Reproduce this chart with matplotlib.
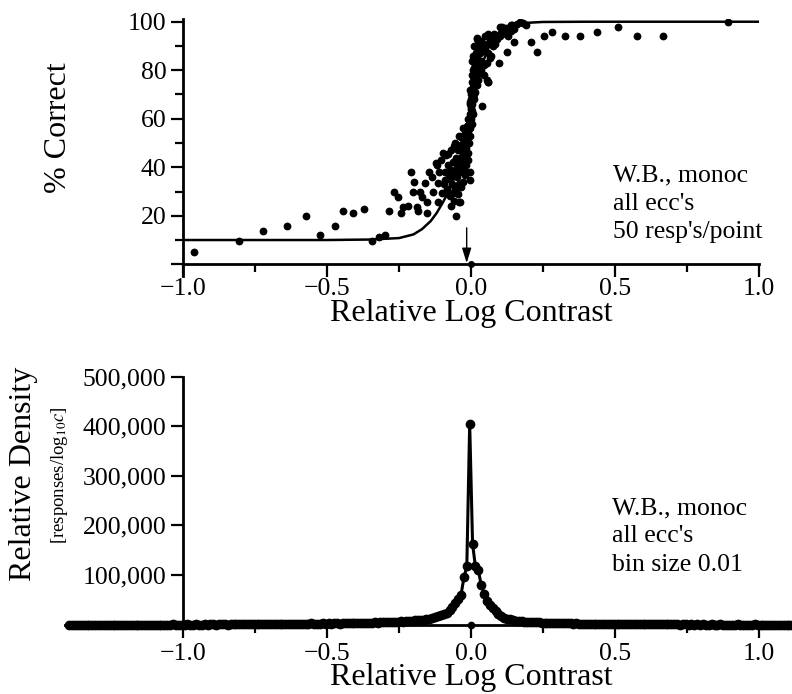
import numpy as np
import matplotlib
matplotlib.use("Agg")
import matplotlib.pyplot as plt

plt.rcParams['font.family'] = ['Liberation Serif', 'DejaVu Serif']
plt.rcParams['mathtext.fontset'] = 'stix'

# ---------------- data: top panel (percent correct) ----------------
pc_x = [-0.962, -0.804, -0.723, -0.640, -0.573, -0.525, -0.472, -0.444, -0.409, -0.370,
        -0.344, -0.318, -0.299, -0.284, -0.268, -0.255, -0.244, -0.235, -0.219, -0.209,
        -0.197, -0.202, -0.186, -0.183, -0.177, -0.169, -0.160, -0.152, -0.154, -0.146,
        -0.137, -0.131, -0.123, -0.119, -0.113, -0.113, -0.102, -0.098, -0.089, -0.079,
        -0.081, -0.064, -0.059, -0.052, -0.041, -0.048, -0.027, -0.027, -0.038,
        -0.095, -0.090, -0.085, -0.080, -0.075, -0.072, -0.070, -0.066, -0.062, -0.058,
        -0.055, -0.052, -0.050, -0.046, -0.044, -0.042, -0.040, -0.037, -0.035, -0.033,
        -0.030, -0.030, -0.028, -0.025, -0.024, -0.022, -0.020, -0.019, -0.017, -0.015,
        -0.014, -0.012, -0.010, -0.009, -0.008, -0.006, -0.005, -0.004, -0.003, -0.003,
        -0.002, 0.000, 0.000, 0.002, -0.010, -0.020, -0.060, -0.068, -0.045, -0.035,
        -0.110, -0.105, -0.088, -0.070, -0.055, -0.042,
        0.000, 0.005, -0.005, 0.010, 0.000, 0.005, 0.015, 0.010, 0.020, 0.005,
        0.015, 0.025, 0.030, 0.010, 0.020, 0.035, 0.045, 0.055, 0.060, 0.005,
        0.015, 0.025, 0.035, 0.045, 0.055, 0.065, 0.020, 0.030, 0.040, 0.050,
        0.060, 0.070, 0.025, 0.035, 0.045, 0.055, 0.065, 0.075, 0.085, 0.020,
        0.050, 0.060, 0.070, 0.080, 0.090, 0.100, 0.110, 0.120, 0.130, 0.140,
        0.100, 0.120, 0.140, 0.150, 0.160, 0.170, 0.180, 0.190, 0.149, 0.124,
        0.097, 0.037, 0.060, 0.208, 0.228, 0.107, 0.141,
        0.004, 0.008, 0.003, 0.007, 0.012, 0.000, -0.004, 0.010, 0.006, 0.013,
        0.018, 0.003, -0.002, 0.016, 0.022, 0.028, 0.008, 0.012, 0.020,
        0.253, 0.282, 0.326, 0.378, 0.436, 0.512, 0.575, 0.668, 0.893]
pc_y = [5.2, 9.5, 13.9, 15.8, 19.9, 12.0, 15.8, 21.8, 21.0, 22.9,
        9.7, 11.4, 12.0, 21.8, 29.9, 27.9, 21.0, 23.5, 24.0, 37.9,
        34.0, 29.9, 23.7, 22.0, 29.9, 27.6, 33.4, 21.0, 25.8, 37.9,
        36.1, 29.9, 41.9, 40.9, 33.4, 25.8, 29.3, 46.0, 34.7, 45.5,
        37.5, 29.3, 48.9, 19.9, 25.8, 40.2, 34.0, 56.1, 25.8,
        33, 38, 31, 41, 35, 28, 39, 33, 42, 37,
        31, 44, 36, 40, 47, 33, 43, 38, 49, 44,
        41, 52, 46, 39, 50, 44, 54, 48, 41, 52,
        57, 46, 55, 60, 50, 58, 53, 62, 38.2, 34.7,
        56, 60, 64, 58, 43, 37, 26, 24, 29, 32,
        38, 43, 45, 47, 50, 53,
        65, 63, 66, 68, 70, 72, 71, 75, 74, 78,
        77, 76, 79, 81, 80, 80, 78, 76, 75.3, 84,
        85, 83, 84, 82, 83, 85, 88, 87, 89, 88,
        87, 86, 91, 92, 90, 91, 92, 90, 91, 93,
        94, 95, 94, 95, 93, 94, 96, 95, 94, 96,
        98, 97.5, 98.5, 97, 99, 100, 99.5, 98.6, 91.8, 87.6,
        82.8, 65.3, 75.3, 91.8, 87.6, 97.9, 98.6,
        66, 62, 70, 73, 70, 68, 67, 77, 80, 82,
        79, 75, 72, 87, 86, 90, 86, 90, 93.2,
        94.2, 95.9, 94.2, 94.2, 95.9, 97.9, 94.2, 94.2, 100]

# fitted psychometric curve
fit_x = [-1.0, -0.5, -0.35, -0.25, -0.20, -0.17, -0.14, -0.12, -0.10, -0.08,
         -0.06, -0.04, -0.02, 0.0, 0.02, 0.04, 0.06, 0.08, 0.10, 0.13,
         0.17, 0.25, 0.40, 1.0]
fit_y = [10, 10, 10.2, 10.8, 12.3, 14.5, 17.8, 21, 25, 29.5,
         35, 43, 53, 63, 74, 83, 89, 93.5, 96, 98.3,
         99.4, 99.9, 100, 100]

threshold_x = -0.015

# ---------------- data: bottom panel (density histogram) ----------------
bin_size = 0.01
bin_first_center = -1.395
density = [
    0, 0, 0, 0, 0, 0, 0, 0, 0, 0,
    0, 0, 0, 0, 0, 0, 0, 0, 0, 0,
    0, 0, 0, 0, 0, 0, 0, 0, 0, 0,
    0, 0, 0, 0, 0, 0, 500, 0, 0, 0,
    0, 500, 0, 0, 500, 0, 0, 500, 0, 500,
    500, 0, 500, 1000, 500, 0, 500, 1000, 500, 500,
    1000, 500, 1000, 500, 1000, 1000, 500, 1000, 1500, 1000,
    1000, 1500, 1000, 1500, 1000, 1500, 2000, 1500, 1000, 1500,
    1500, 2000, 1500, 2000, 2500, 2000, 1500, 2000, 2500, 2000,
    2500, 2000, 3000, 2500, 2000, 3000, 2500, 3000, 3500, 3000,
    3000, 3500, 3000, 4000, 3500, 4000, 4500, 4000, 4500, 5000,
    5000, 5500, 5000, 6000, 5500, 6500, 6000, 7000, 7000, 7500,
    8500, 9000, 9500, 10000, 10500, 11500, 13000, 15000, 16500, 18500,
    21000, 24000, 29000, 35000, 44000, 51000, 60000, 95000, 117000, 405000,
    162000, 117000, 110000, 79000, 62000, 48000, 40000, 33000, 27000, 21000,
    17000, 14000, 12000, 10500, 9000, 8000, 7000, 6500, 6000, 5500,
    5000, 5000, 4500, 4500, 4000, 4000, 3500, 3500, 3000, 3000,
    3000, 2500, 3000, 2500, 2500, 2000, 2500, 2000, 2000, 2000,
    2000, 1500, 2000, 1500, 1500, 2000, 1500, 1500, 1000, 1500,
    1500, 1000, 1000, 1500, 1000, 1000, 1000, 500, 1000, 1000,
    1000, 500, 1000, 500, 500, 1000, 500, 500, 500, 500,
    500, 500, 0, 500, 500, 0, 500, 0, 500, 0,
    500, 0, 0, 500, 0, 0, 500, 0, 0, 0,
    0, 0, 500, 0, 0, 0, 0, 0, 500, 0,
    0, 0, 0, 0, 0, 0, 0, 0, 0, 0,
    0, 0]
bin_centers = bin_first_center + bin_size * np.arange(len(density))

x_ticks_major = [-1.0, -0.5, 0.0, 0.5, 1.0]
x_ticks_minor = [-0.75, -0.25, 0.25, 0.75]
x_tick_labels = ['\u22121.0', '\u22120.5', '0.0', '0.5', '1.0']
pc_ticks_major = [0, 20, 40, 60, 80, 100]
pc_ticks_minor = [10, 30, 50, 70, 90]
pc_tick_labels = ['', '20', '40', '60', '80', '100']
dens_ticks = [100000, 200000, 300000, 400000, 500000]
dens_tick_labels = ['100,000', '200,000', '300,000', '400,000', '500,000']

# ---------------- figure ----------------
W, H = 792, 694
fig = plt.figure(figsize=(W / 100, H / 100), dpi=100)

TICK_FS = 18.5
LAB_FS = 23
LW_SPINE = 2.0

def style_axes(ax):
    for s in ['top', 'right']:
        ax.spines[s].set_visible(False)
    for s in ['left', 'bottom']:
        ax.spines[s].set_linewidth(LW_SPINE)
    ax.tick_params(which='major', direction='out', length=9, width=1.6,
                   labelsize=TICK_FS, pad=3)
    ax.tick_params(which='minor', direction='out', length=5.5, width=1.6)

# top panel
ax1 = fig.add_axes([183 / W, 1 - 276.4 / H, 576 / W, 257.1 / H])
style_axes(ax1)
ax1.set_xlim(-1.0, 1.0)
ax1.set_ylim(-5, 101)
ax1.spines['bottom'].set_position(('data', 0))
ax1.plot(fit_x, fit_y, color='black', lw=1.8, zorder=2)
ax1.plot(pc_x, pc_y, 'o', color='black', ms=4.6, mec='black', zorder=3)
ax1.plot([0.0], [0.0], 'o', color='black', ms=4, zorder=4, clip_on=False)
ax1.annotate('', xy=(threshold_x, 0.5), xytext=(threshold_x, 15),
             arrowprops=dict(arrowstyle='-|>,head_length=0.9,head_width=0.28',
                             color='black', lw=1.0, shrinkA=0, shrinkB=0))
ax1.set_xticks(x_ticks_major)
ax1.set_xticklabels(x_tick_labels)
ax1.set_xticks(x_ticks_minor, minor=True)
ax1.set_yticks(pc_ticks_major)
ax1.set_yticklabels(pc_tick_labels)
ax1.set_yticks(pc_ticks_minor, minor=True)
ax1.tick_params(axis='x', which='major', pad=1)
fig.text(471 / W, 1 - 314 / H, 'Relative Log Contrast', fontsize=LAB_FS,
         ha='center', va='center')
fig.text(58 / W, 1 - 128 / H, '% Correct', fontsize=LAB_FS, rotation=90,
         ha='center', va='center')
for i, line in enumerate(['W.B., monoc', "all ecc's", "50 resp's/point"]):
    fig.text(613 / W, 1 - (175 + 28.5 * i) / H, line, fontsize=18.5,
             ha='left', va='center')

# bottom panel
ax2 = fig.add_axes([65 / W, 1 - 628.5 / H, 727 / W, 252 / H])
style_axes(ax2)
ax2.set_xlim(-1.41, 1.114)
ax2.set_ylim(-8000, 500000)
ax2.spines['left'].set_position(('data', -1.0))
ax2.spines['left'].set_bounds(0, 500000)
ax2.spines['bottom'].set_position(('data', 0))
ax2.plot(bin_centers, density, '-o', color='black', lw=2.2, ms=6,
         zorder=3, clip_on=False)
ax2.plot([0.0], [0.0], 'o', color='black', ms=4.5, zorder=4, clip_on=False)
ax2.set_xticks(x_ticks_major)
ax2.set_xticklabels(x_tick_labels)
ax2.set_xticks(x_ticks_minor, minor=True)
ax2.set_yticks(dens_ticks)
ax2.set_yticklabels(dens_tick_labels)
ax2.tick_params(axis='x', which='major', pad=4)
fig.text(471 / W, 1 - 678 / H, 'Relative Log Contrast', fontsize=LAB_FS,
         ha='center', va='center')
fig.text(24 / W, 1 - 474 / H, 'Relative Density', fontsize=LAB_FS, rotation=90,
         ha='center', va='center')
fig.text(60 / W, 1 - 475 / H, r'[responses/log$_{10}$$c$]', fontsize=13.5,
         rotation=90, ha='center', va='center')
for i, line in enumerate(['W.B., monoc', "all ecc's", 'bin size 0.01']):
    fig.text(612 / W, 1 - (508 + 28.5 * i) / H, line, fontsize=18.5,
             ha='left', va='center')

fig.savefig('out.png', dpi=100)
